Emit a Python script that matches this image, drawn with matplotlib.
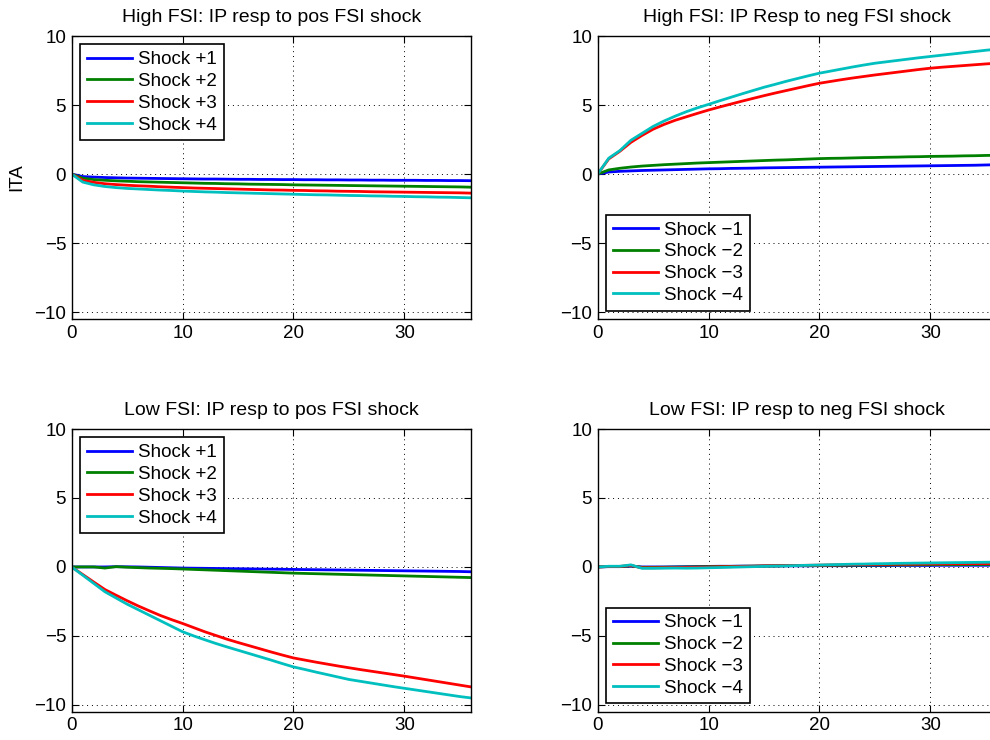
import matplotlib
matplotlib.use('Agg')
import matplotlib.pyplot as plt

plt.rcParams['font.family'] = ['Liberation Sans', 'DejaVu Sans']
plt.rcParams['font.size'] = 13.5

# horizon (months)
horizon = list(range(37))

# High FSI regime, positive FSI shocks
hi_pos_1 = [0, -0.18, -0.22, -0.25, -0.27, -0.29, -0.30, -0.31, -0.32, -0.33, -0.34, -0.35, -0.36,
            -0.36, -0.37, -0.38, -0.38, -0.39, -0.39, -0.40, -0.40, -0.41, -0.41, -0.42, -0.42,
            -0.43, -0.43, -0.44, -0.44, -0.45, -0.45, -0.45, -0.46, -0.46, -0.47, -0.47, -0.48]
hi_pos_2 = [0, -0.30, -0.40, -0.45, -0.49, -0.52, -0.55, -0.57, -0.59, -0.61, -0.63, -0.65, -0.67,
            -0.68, -0.70, -0.71, -0.73, -0.74, -0.75, -0.76, -0.78, -0.79, -0.80, -0.81, -0.82,
            -0.83, -0.84, -0.85, -0.86, -0.87, -0.88, -0.89, -0.90, -0.91, -0.92, -0.93, -0.95]
hi_pos_3 = [0, -0.45, -0.60, -0.70, -0.76, -0.81, -0.85, -0.88, -0.92, -0.95, -0.98, -1.01, -1.03,
            -1.05, -1.07, -1.09, -1.11, -1.13, -1.15, -1.16, -1.18, -1.19, -1.21, -1.22, -1.24,
            -1.25, -1.26, -1.28, -1.29, -1.30, -1.31, -1.32, -1.33, -1.34, -1.35, -1.36, -1.38]
hi_pos_4 = [0, -0.58, -0.78, -0.90, -0.98, -1.04, -1.08, -1.12, -1.16, -1.19, -1.23, -1.26, -1.29,
            -1.31, -1.34, -1.36, -1.38, -1.40, -1.42, -1.44, -1.46, -1.48, -1.50, -1.51, -1.53,
            -1.55, -1.56, -1.58, -1.59, -1.61, -1.62, -1.64, -1.65, -1.67, -1.68, -1.70, -1.72]

# High FSI regime, negative FSI shocks
hi_neg_1 = [0, 0.15, 0.20, 0.23, 0.26, 0.28, 0.30, 0.32, 0.34, 0.36, 0.38, 0.39, 0.41, 0.42, 0.43,
            0.45, 0.46, 0.47, 0.48, 0.49, 0.50, 0.51, 0.52, 0.53, 0.54, 0.55, 0.56, 0.57, 0.58,
            0.59, 0.60, 0.61, 0.62, 0.63, 0.64, 0.66, 0.68]
hi_neg_2 = [0, 0.30, 0.42, 0.51, 0.58, 0.63, 0.68, 0.72, 0.76, 0.80, 0.83, 0.86, 0.89, 0.92, 0.95,
            0.98, 1.01, 1.03, 1.06, 1.09, 1.12, 1.14, 1.15, 1.17, 1.19, 1.20, 1.22, 1.23, 1.25,
            1.26, 1.28, 1.29, 1.30, 1.32, 1.33, 1.35, 1.36]
hi_neg_3 = [0, 1.10, 1.65, 2.30, 2.80, 3.25, 3.60, 3.90, 4.15, 4.40, 4.64, 4.86, 5.07, 5.28, 5.48,
            5.68, 5.87, 6.05, 6.23, 6.41, 6.58, 6.71, 6.84, 6.96, 7.07, 7.18, 7.28, 7.38, 7.48,
            7.58, 7.67, 7.74, 7.80, 7.86, 7.92, 7.98, 8.03]
hi_neg_4 = [0, 1.15, 1.70, 2.45, 2.95, 3.45, 3.85, 4.20, 4.52, 4.80, 5.05, 5.31, 5.56, 5.81, 6.05,
            6.29, 6.50, 6.72, 6.92, 7.12, 7.31, 7.46, 7.61, 7.76, 7.90, 8.03, 8.13, 8.23, 8.33,
            8.43, 8.52, 8.61, 8.70, 8.79, 8.88, 8.97, 9.05]

# Low FSI regime, positive FSI shocks
lo_pos_1 = [0, 0, 0, 0, 0.02, 0.01, 0, -0.02, -0.04, -0.06, -0.08, -0.09, -0.10, -0.11, -0.12,
            -0.13, -0.14, -0.15, -0.16, -0.17, -0.18, -0.19, -0.20, -0.21, -0.22, -0.23, -0.24,
            -0.25, -0.26, -0.27, -0.28, -0.29, -0.30, -0.31, -0.32, -0.33, -0.35]
lo_pos_2 = [0, 0, 0, -0.08, 0.02, -0.02, -0.05, -0.08, -0.10, -0.12, -0.15, -0.18, -0.21, -0.24,
            -0.27, -0.30, -0.33, -0.36, -0.39, -0.42, -0.45, -0.47, -0.49, -0.51, -0.53, -0.55,
            -0.57, -0.59, -0.61, -0.63, -0.65, -0.67, -0.69, -0.71, -0.73, -0.75, -0.77]
lo_pos_3 = [0, -0.55, -1.10, -1.64, -2.05, -2.45, -2.83, -3.18, -3.52, -3.82, -4.10, -4.40, -4.70,
            -4.97, -5.24, -5.48, -5.71, -5.94, -6.17, -6.39, -6.60, -6.75, -6.90, -7.04, -7.18,
            -7.31, -7.44, -7.56, -7.68, -7.80, -7.92, -8.05, -8.18, -8.31, -8.44, -8.57, -8.70]
lo_pos_4 = [0, -0.60, -1.20, -1.80, -2.25, -2.70, -3.10, -3.50, -3.90, -4.30, -4.70, -5.00, -5.28,
            -5.55, -5.80, -6.04, -6.28, -6.52, -6.76, -7.01, -7.25, -7.43, -7.62, -7.80, -7.98,
            -8.16, -8.29, -8.42, -8.55, -8.68, -8.80, -8.92, -9.04, -9.16, -9.28, -9.40, -9.50]

# Low FSI regime, negative FSI shocks
lo_neg_1 = [0, 0.02, 0.02, 0.05, 0, 0, 0, 0.01, 0.02, 0.03, 0.04, 0.05, 0.05, 0.06, 0.06, 0.07,
            0.07, 0.08, 0.08, 0.08, 0.09, 0.09, 0.09, 0.10, 0.10, 0.10, 0.10, 0.11, 0.11, 0.11,
            0.11, 0.12, 0.12, 0.12, 0.12, 0.12, 0.13]
lo_neg_2 = [0, 0.03, 0.03, 0.08, -0.03, -0.03, -0.02, -0.01, 0, 0.01, 0.02, 0.03, 0.04, 0.05,
            0.06, 0.07, 0.08, 0.09, 0.10, 0.10, 0.11, 0.12, 0.12, 0.13, 0.13, 0.14, 0.14, 0.15,
            0.15, 0.16, 0.16, 0.17, 0.17, 0.17, 0.18, 0.18, 0.18]
lo_neg_3 = [0, 0.04, 0.04, 0.10, -0.06, -0.06, -0.05, -0.04, -0.03, -0.02, -0.01, 0.01, 0.02,
            0.04, 0.05, 0.07, 0.08, 0.10, 0.11, 0.12, 0.13, 0.14, 0.15, 0.16, 0.17, 0.18, 0.19,
            0.20, 0.20, 0.21, 0.22, 0.22, 0.23, 0.23, 0.24, 0.24, 0.25]
lo_neg_4 = [0, 0.05, 0.05, 0.15, -0.10, -0.10, -0.09, -0.08, -0.09, -0.08, -0.06, -0.04, -0.02,
            0, 0.02, 0.04, 0.06, 0.08, 0.10, 0.12, 0.14, 0.16, 0.18, 0.20, 0.21, 0.23, 0.24,
            0.26, 0.27, 0.28, 0.29, 0.30, 0.31, 0.32, 0.33, 0.34, 0.35]

pos_labels = ['Shock +1', 'Shock +2', 'Shock +3', 'Shock +4']
neg_labels = ['Shock \u22121', 'Shock \u22122', 'Shock \u22123', 'Shock \u22124']
colors = ['#0000ff', '#008000', '#ff0000', '#00bfbf']

panels = [
    ('High FSI: IP resp to pos FSI shock', [hi_pos_1, hi_pos_2, hi_pos_3, hi_pos_4], pos_labels,
     'upper left', [0.0724, 0.5689, 0.4033, 0.3824]),
    ('High FSI: IP Resp to neg FSI shock', [hi_neg_1, hi_neg_2, hi_neg_3, hi_neg_4], neg_labels,
     'lower left', [0.6037, 0.5689, 0.4033, 0.3824]),
    ('Low FSI: IP resp to pos FSI shock', [lo_pos_1, lo_pos_2, lo_pos_3, lo_pos_4], pos_labels,
     'upper left', [0.0724, 0.0382, 0.4033, 0.3820]),
    ('Low FSI: IP resp to neg FSI shock', [lo_neg_1, lo_neg_2, lo_neg_3, lo_neg_4], neg_labels,
     'lower left', [0.6037, 0.0382, 0.4033, 0.3820]),
]

fig = plt.figure(figsize=(9.9, 7.4), dpi=100)

for i, (title, series, labels, loc, rect) in enumerate(panels):
    ax = fig.add_axes(rect)
    for y, lab, c in zip(series, labels, colors):
        ax.plot(horizon, y, color=c, lw=2.0, label=lab)
    ax.set_xlim(0, 36)
    ax.set_ylim(-10.5, 10)
    ax.set_xticks([0, 10, 20, 30])
    ax.set_yticks([-10, -5, 0, 5, 10])
    ax.grid(True, color='black', linestyle=(0, (1, 4)), lw=0.7)
    ax.tick_params(direction='in', length=5, width=0.8, top=True, right=True,
                   labelsize=13.5, pad=4, colors='black')
    for sp in ax.spines.values():
        sp.set_linewidth(1.0)
    ax.set_title(title, fontsize=14, pad=10)
    leg = ax.legend(loc=loc, fontsize=13.5, fancybox=False, framealpha=1,
                    edgecolor='black', handlelength=2.4, handletextpad=0.35,
                    labelspacing=0.25, borderpad=0.35, borderaxespad=0.45)
    leg.get_frame().set_linewidth(1.2)
    if i == 0:
        ax.set_ylabel('ITA', fontsize=13.5)
        ax.yaxis.set_label_coords(-0.117, 0.5)

fig.savefig('out.png', dpi=100)
